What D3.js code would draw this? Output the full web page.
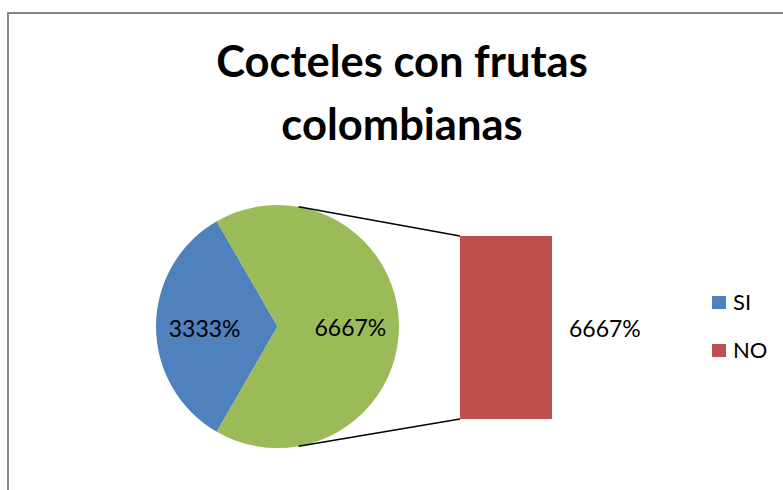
<!DOCTYPE html>
<html>
<head>
<meta charset="utf-8">
<script src="https://cdn.jsdelivr.net/npm/d3@7"></script>
<style>
  body { margin: 0; background: #fff; }
  text { font-family: Lato, "Open Sans", sans-serif; }
</style>
</head>
<body>
<svg class="chart"></svg>
<script>
// data
var categories = ["SI", "NO"];
var values = [33.33, 66.67];
var colors = ["#4F81BD", "#9BBB59"];
var barColor = "#C0504D";
var titleLines = ["Cocteles con frutas", "colombianas"];

var width = 783, height = 490;
var pct_ = function(v){ return d3.format("d")(Math.round(v * 100)) + "%"; };

var svg = d3.select(".chart")
    .attr("width", width)
    .attr("height", height);

// chart area border (only top and left show in the crop)
svg.append("path")
    .attr("d", "M8,490 L8,13 L783,13")
    .attr("fill", "none")
    .attr("stroke", "#868686")
    .attr("stroke-width", 2);

// title
svg.selectAll(".title")
    .data(titleLines)
  .enter().append("text")
    .attr("class", "title")
    .attr("text-anchor", "middle")
    .attr("x", 402)
    .attr("y", function(d, i){ return 77 + i * 63; })
    .attr("font-weight", "bold")
    .attr("font-size", "43.5px")
    .attr("fill", "#000")
    .text(function(d){ return d; });

// pie
var cx = 277.5, cy = 326.5, r = 121.5;
var start = 210 * Math.PI / 180;

var pie = d3.pie()
    .sort(null)
    .startAngle(start)
    .endAngle(start + 2 * Math.PI);

var arc = d3.arc().innerRadius(0).outerRadius(r);
var labelArc = d3.arc().innerRadius(r * 0.6).outerRadius(r * 0.6);

var g = svg.append("g")
    .attr("transform", "translate(" + cx + "," + cy + ")");

var slices = pie(values);

g.selectAll(".slice")
    .data(slices)
  .enter().append("path")
    .attr("class", "slice")
    .attr("d", arc)
    .attr("fill", function(d, i){ return colors[i]; });

g.selectAll(".plabel")
    .data(slices)
  .enter().append("text")
    .attr("class", "plabel")
    .attr("text-anchor", "middle")
    .attr("transform", function(d){ var c = labelArc.centroid(d); return "translate(" + c[0] + "," + (c[1] + 10) + ")"; })
    .attr("font-size", "23px")
    .attr("fill", "#000")
    .text(function(d){ return pct_(d.value); });

// bar (secondary plot)
var barX = 460, barW = 92;
var y = d3.scaleLinear()
    .domain([0, values[1]])
    .range([419, 236]);

svg.append("rect")
    .attr("x", barX)
    .attr("y", y(values[1]))
    .attr("width", barW)
    .attr("height", y(0) - y(values[1]))
    .attr("fill", barColor);

svg.append("text")
    .attr("x", barX + barW + 17)
    .attr("y", 337)
    .attr("font-size", "23px")
    .attr("fill", "#000")
    .text(pct_(values[1]));

// connector lines
var pTop = d3.pointRadial(10 * Math.PI / 180, r);
var pBot = d3.pointRadial(170 * Math.PI / 180, r);

svg.append("line")
    .attr("x1", cx + pTop[0]).attr("y1", cy + pTop[1])
    .attr("x2", barX).attr("y2", y(values[1]))
    .attr("stroke", "#000").attr("stroke-width", 1.5);

svg.append("line")
    .attr("x1", cx + pBot[0]).attr("y1", cy + pBot[1])
    .attr("x2", barX).attr("y2", y(0))
    .attr("stroke", "#000").attr("stroke-width", 1.5);

// legend
var legendColors = [colors[0], barColor];
var legend = svg.selectAll(".legend")
    .data(categories)
  .enter().append("g")
    .attr("class", "legend")
    .attr("transform", function(d, i){ return "translate(712," + (296 + i * 48) + ")"; });

legend.append("rect")
    .attr("width", 14)
    .attr("height", 13)
    .attr("fill", function(d, i){ return legendColors[i]; });

legend.append("text")
    .attr("x", 21)
    .attr("y", 14)
    .attr("font-size", "22px")
    .attr("fill", "#000")
    .text(function(d){ return d; });
</script>
</body>
</html>
